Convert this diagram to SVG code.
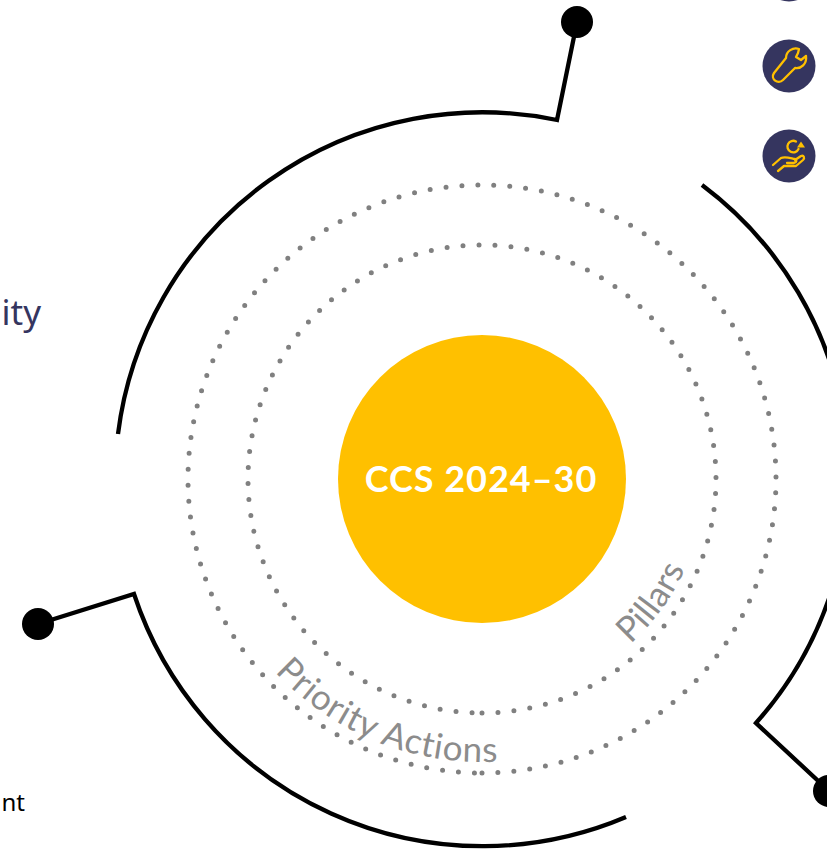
<svg xmlns="http://www.w3.org/2000/svg" width="827" height="854" viewBox="0 0 827 854">
<style>
.arc{fill:none;stroke:#000;stroke-width:4.3;stroke-linejoin:miter}
.dot{fill:#000}
.ring{fill:none;stroke:#808080;stroke-width:5;stroke-linecap:round}
.ic{fill:#35355f}
.gl{fill:none;stroke:#ffc000;stroke-width:2.3;stroke-linecap:round;stroke-linejoin:round}
.curve{font-family:"Lato",sans-serif;fill:#8c8c8c;font-size:35px}
</style>
<defs>
<path id="pa" d="M275 672A283 283 0 0 0 765 479"/>
<path id="pi" d="M260 479A222 222 0 0 0 704 479"/>
</defs>
<rect width="827" height="854" fill="#fff"/>
<g id="connectors">
<path class="arc" d="M118 434A367 367 0 0 1 557 120L577 22"/>
<path class="arc" d="M702 185A367 367 0 0 1 756 723L829 791"/>
<path class="arc" d="M626 817A367 367 0 0 1 134 594L38 624"/>
</g>
<g id="rings">
<path class="ring" stroke-dasharray="0 16.04" d="M482 713A234 234 0 1 0 482 245A234 234 0 1 0 482 713"/>
<path class="ring" stroke-dasharray="0 15.99" d="M482 773A294 294 0 1 0 482 185A294 294 0 1 0 482 773"/>
</g>
<g id="dot-top"><circle class="dot" cx="577" cy="22" r="16"/></g>
<g id="dot-left"><circle class="dot" cx="38" cy="624" r="16"/></g>
<g id="dot-right"><circle class="dot" cx="829" cy="791" r="16"/></g>
<g id="core"><circle cx="482" cy="479" r="144" fill="#ffc000"/>
<text x="481" y="492" text-anchor="middle" font-family="Lato,sans-serif" font-weight="700" font-size="36" letter-spacing="1" fill="#fff">CCS 2024–30</text></g>
<g id="label-actions"><text class="curve" letter-spacing="0.8"><textPath href="#pa" startOffset="0">Priority Actions</textPath></text></g>
<g id="label-pillars"><text class="curve" letter-spacing="0.4"><textPath href="#pi" startOffset="511">Pillars</textPath></text></g>
<g id="icon-top"><circle class="ic" cx="789" cy="-25" r="26.5"/></g>
<g id="icon-wrench"><circle class="ic" cx="789" cy="66" r="26.5"/>
<path class="gl" d="M799 49C793 47 786 51 786 58L774 73C770 79 778 85 783 80L795 68C801 69 807 64 806 56L801 60L796 57L798 53Z"/></g>
<g id="icon-hand"><circle class="ic" cx="789" cy="156" r="26.5"/>
<path class="gl" d="M796 141.5A5.8 5.8 0 1 0 798.5 149M773 165L781 158C785 156 790 158 795 159C797 160 797 162 794 163L787 163M795 160L801 156C804 155 805 158 803 160L796 166L784 166L778 171"/>
<path d="M797 147.500L805 147.500L801 141.500Z" fill="#ffc000"/></g>
<g id="label-ity"><text x="41" y="325" text-anchor="end" font-family="Noto Sans,sans-serif" font-size="35" fill="#35355f">ity</text></g>
<g id="label-nt"><text x="25" y="811" text-anchor="end" font-family="Noto Sans,sans-serif" font-size="24" fill="#000">nt</text></g>
</svg>
